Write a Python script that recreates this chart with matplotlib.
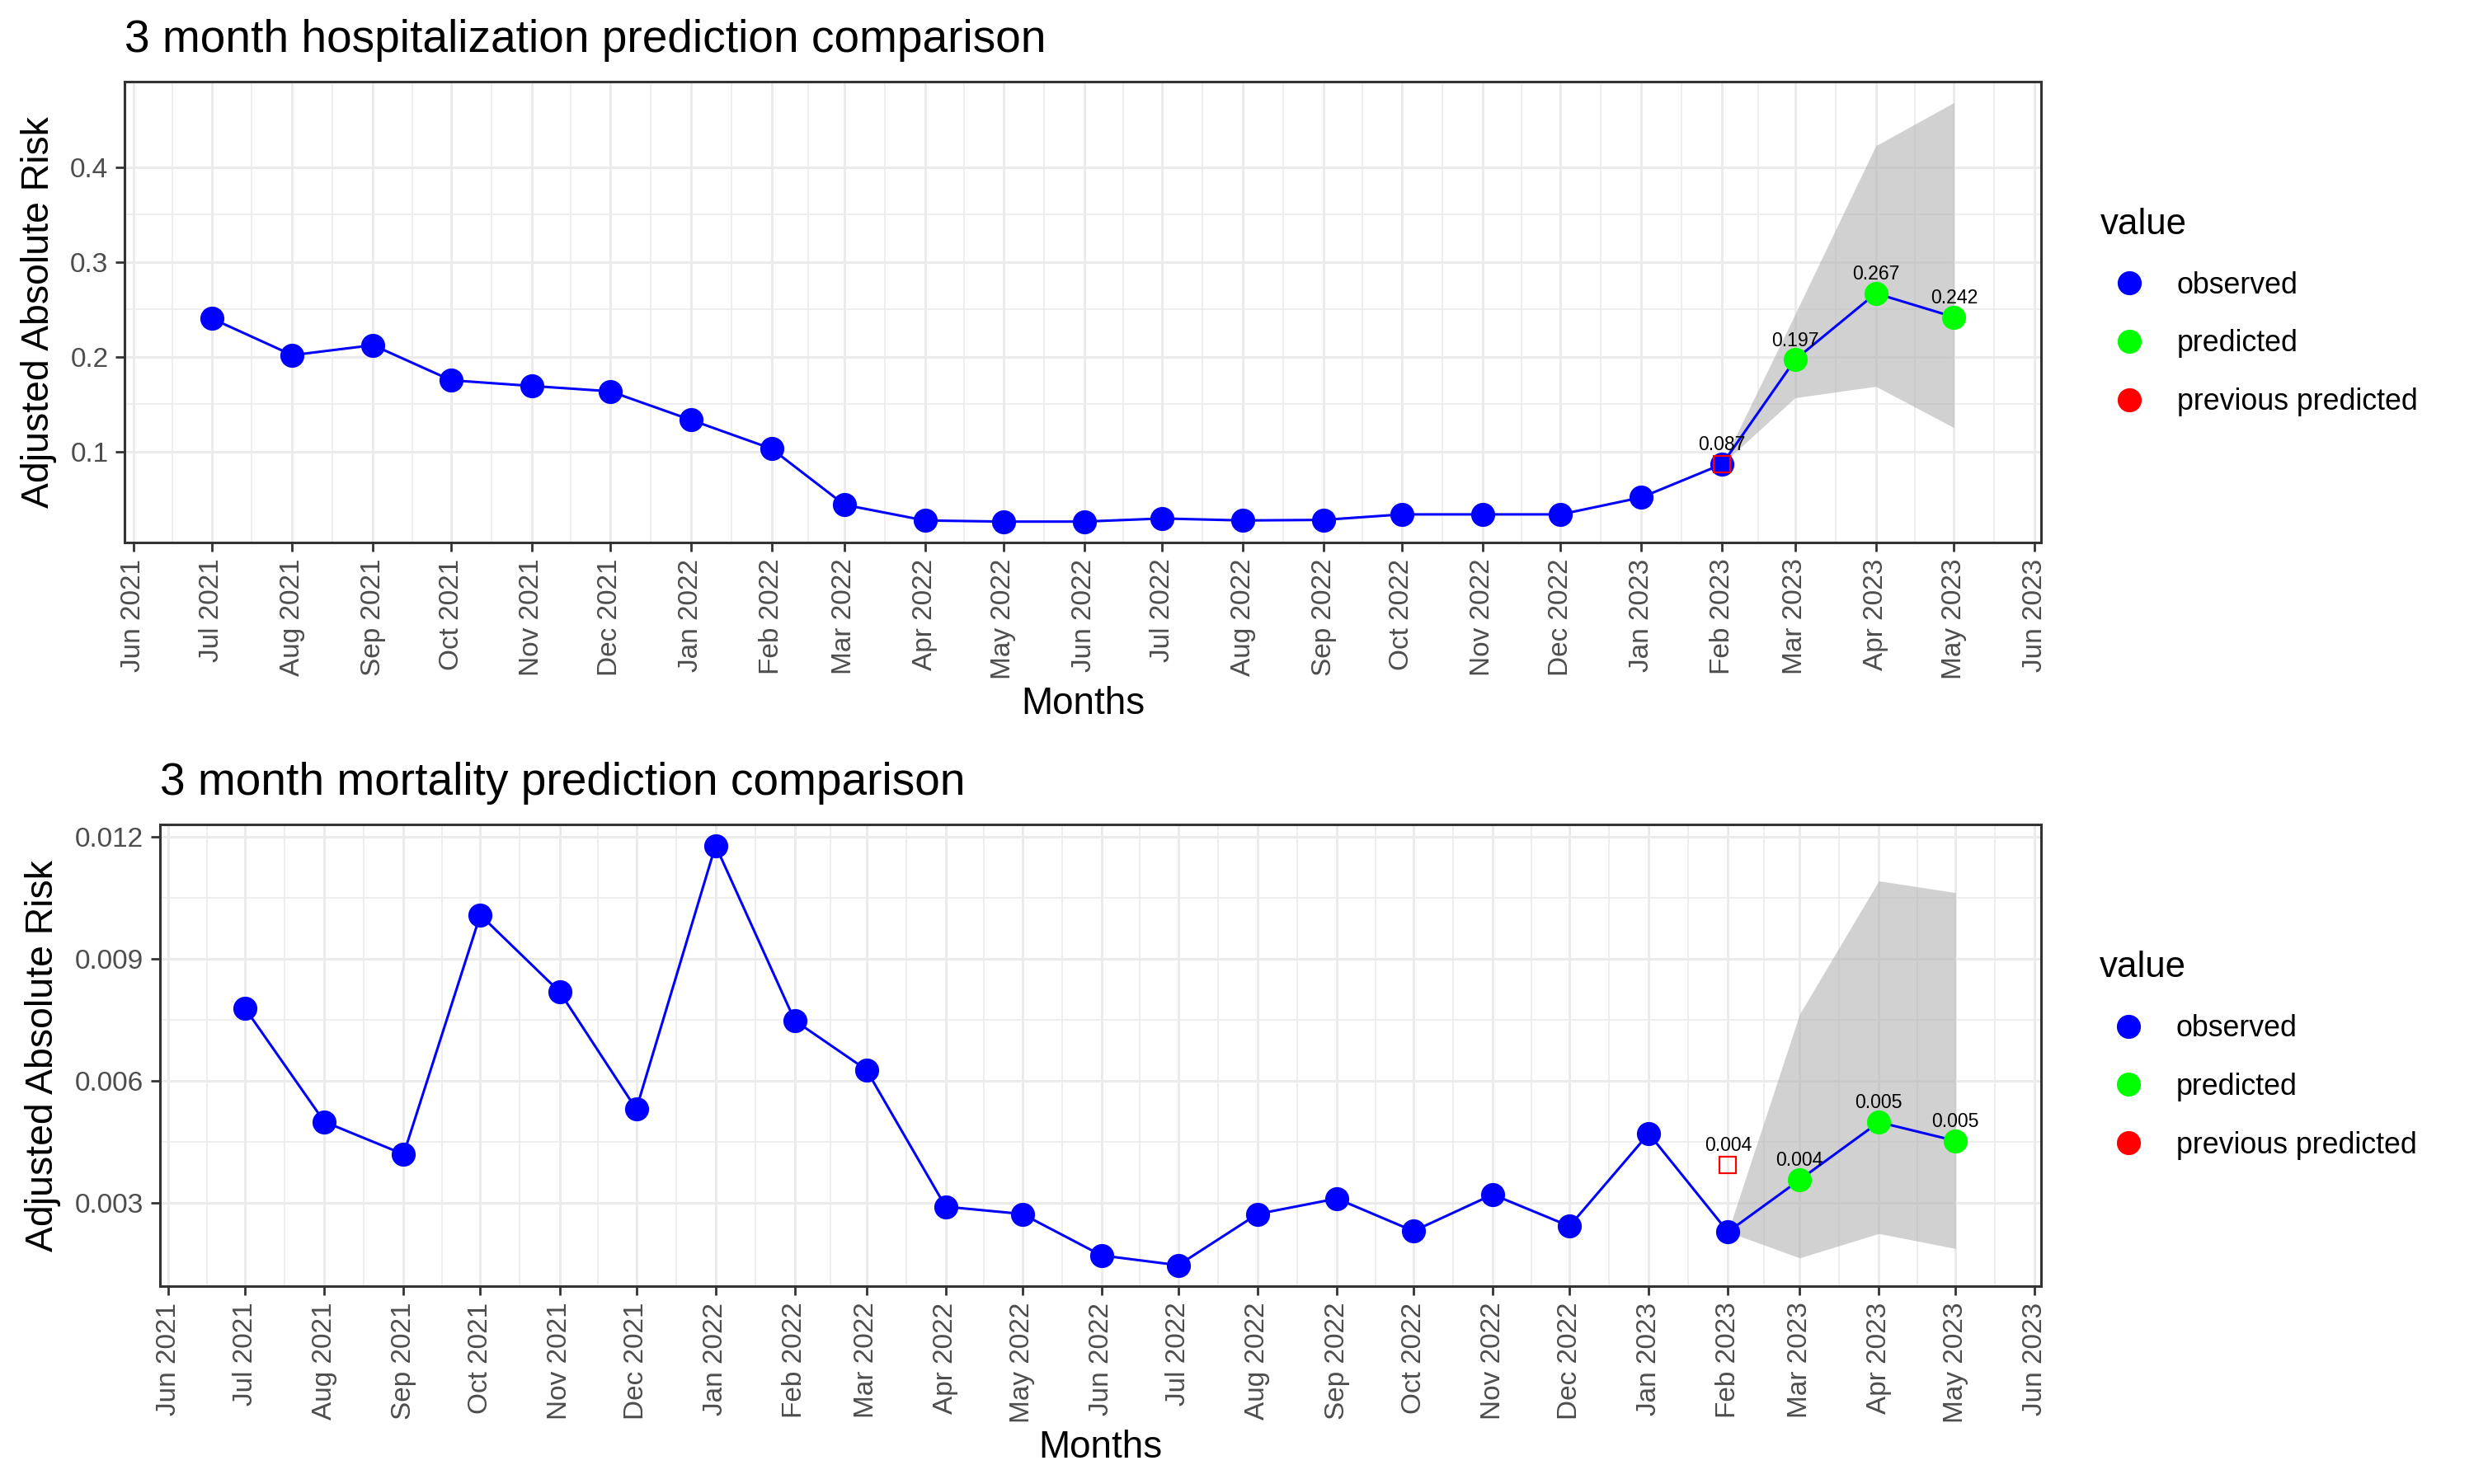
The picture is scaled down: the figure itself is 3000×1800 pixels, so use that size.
# -*- coding: utf-8 -*-
import numpy as np
import pandas as pd
import matplotlib as mpl
import matplotlib.pyplot as plt
import matplotlib.dates as mdates
from matplotlib.lines import Line2D

mpl.rcParams['font.family'] = ['Liberation Sans', 'DejaVu Sans']

# months
obs_months = pd.date_range('2021-07-01', '2023-02-01', freq='MS')
pred_months = pd.date_range('2023-03-01', '2023-05-01', freq='MS')
band_months = pd.date_range('2023-02-01', '2023-05-01', freq='MS')
prev_month = pd.Timestamp('2023-02-01')

# 3 month hospitalization
hosp_observed = [0.2406, 0.2019, 0.2124, 0.1754, 0.1694, 0.1638, 0.1337, 0.1033,
                 0.0442, 0.0277, 0.0265, 0.0265, 0.0298, 0.0277, 0.0283, 0.0341,
                 0.0341, 0.0341, 0.0520, 0.0870]
hosp_predicted = [0.197, 0.267, 0.242]
hosp_prev = 0.087
hosp_lower = [0.0870, 0.157, 0.169, 0.1255]
hosp_upper = [0.0870, 0.245, 0.4225, 0.468]

# 3 month mortality
mort_observed = [0.00778, 0.00499, 0.00419, 0.01008, 0.00819, 0.00530, 0.01179, 0.00748,
                 0.00627, 0.00290, 0.00272, 0.00170, 0.00146, 0.00272, 0.00310, 0.00230,
                 0.00320, 0.00242, 0.00470, 0.00228]
mort_predicted = [0.00356, 0.00498, 0.00452]
mort_prev = 0.00393
mort_lower = [0.00228, 0.00164, 0.00224, 0.00187]
mort_upper = [0.00228, 0.00764, 0.01092, 0.01063]

grey30 = '#4D4D4D'
grey20 = '#333333'


def panel(ax, title, observed, predicted, prev, lower, upper, yticks, yfmt):
    all_x = list(obs_months) + list(pred_months)
    all_y = list(observed) + list(predicted)

    ax.fill_between(band_months, lower, upper, color='#B3B3B3', alpha=0.6, lw=0, zorder=2)
    ax.plot(all_x, all_y, color='#0000FF', lw=1.1, zorder=3)
    ax.plot(obs_months, observed, 'o', color='#0000FF', ms=10.5, mew=0, zorder=4)
    ax.plot(pred_months, predicted, 'o', color='#00FF00', ms=10.5, mew=0, zorder=4)
    ax.plot([prev_month], [prev], 's', mfc='none', mec='#FF0000', ms=7.5, mew=0.8, zorder=5)

    for x, y in zip([prev_month] + list(pred_months), [prev] + list(predicted)):
        ax.annotate('%.3f' % y, (x, y), xytext=(0, 6), textcoords='offset points',
                    ha='center', va='baseline', fontsize=8.3, color='black', zorder=6)

    # axis limits with 5% expansion
    xmin, xmax = mdates.date2num(all_x[0]), mdates.date2num(all_x[-1])
    pad = 0.05 * (xmax - xmin)
    ax.set_xlim(xmin - pad, xmax + pad)
    vals = all_y + list(lower) + list(upper) + [prev]
    ymin, ymax = min(vals), max(vals)
    ypad = 0.05 * (ymax - ymin)

    majors = pd.date_range('2021-06-01', '2023-06-01', freq='MS')
    major_num = mdates.date2num(majors)
    ax.set_xticks(major_num)
    ax.set_xticks((major_num[:-1] + major_num[1:]) / 2, minor=True)
    ax.set_xticklabels([d.strftime('%b %Y') for d in majors], rotation=90)
    ax.set_yticks(yticks)
    ax.set_yticks((np.array(yticks[:-1]) + np.array(yticks[1:])) / 2, minor=True)
    ax.set_yticklabels([yfmt % t for t in yticks])
    ax.set_ylim(ymin - ypad, ymax + ypad)

    ax.grid(which='major', color='#EBEBEB', lw=1.1, zorder=0)
    ax.grid(which='minor', color='#EBEBEB', lw=0.6, zorder=0)
    ax.set_axisbelow(True)
    ax.tick_params(which='major', length=4, width=1.0, color=grey20,
                   labelsize=12, labelcolor=grey30, pad=3)
    ax.tick_params(which='minor', length=0)
    for s in ax.spines.values():
        s.set_color(grey20)
        s.set_linewidth(1.1)

    ax.set_xlabel('Months', fontsize=16.5, labelpad=3)
    ax.set_ylabel('Adjusted Absolute Risk', fontsize=16.7, labelpad=6)
    ax.set_title(title, fontsize=19.8, loc='left', pad=13)

    handles = [Line2D([], [], ls='none', marker='o', color=c, ms=10.5, mew=0)
               for c in ['#0000FF', '#00FF00', '#FF0000']]
    ax.legend(handles, ['observed', 'predicted', 'previous predicted'],
              title='value', loc='center left', bbox_to_anchor=(1.023, 0.5),
              frameon=False, fontsize=12.9, title_fontsize=15.8,
              alignment='left', handlelength=2.0, handletextpad=0.6,
              labelspacing=1.0, borderpad=0)
    return ax


fig = plt.figure(figsize=(15, 9), dpi=200)
ax1 = fig.add_axes([0.0503, 0.6344, 0.825 - 0.0503, 0.945 - 0.6344])
ax2 = fig.add_axes([0.0645, 0.1333, 0.825 - 0.0645, 0.4444 - 0.1333])

panel(ax1, '3 month hospitalization prediction comparison', hosp_observed, hosp_predicted,
      hosp_prev, hosp_lower, hosp_upper, [0.1, 0.2, 0.3, 0.4], '%.1f')
panel(ax2, '3 month mortality prediction comparison', mort_observed, mort_predicted,
      mort_prev, mort_lower, mort_upper, [0.003, 0.006, 0.009, 0.012], '%.3f')

fig.savefig('out.png', dpi=200, facecolor='white')
